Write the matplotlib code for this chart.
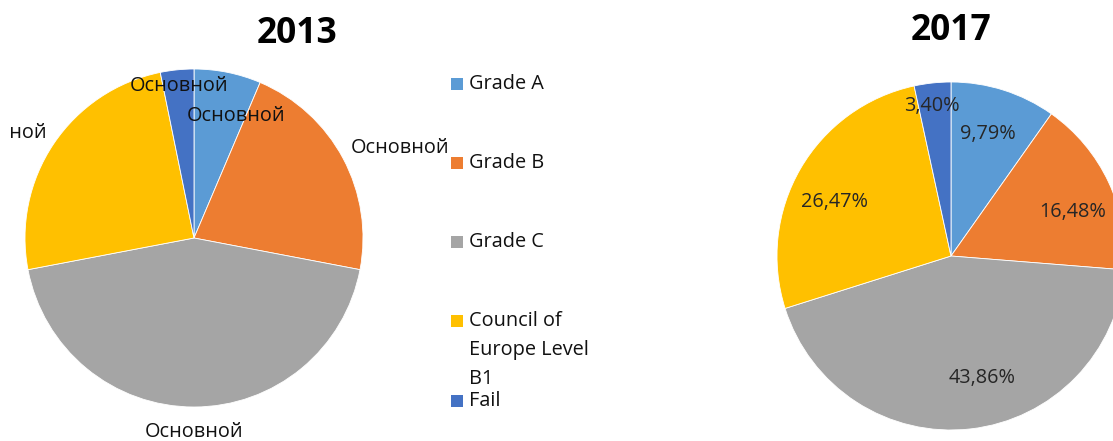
import numpy as np
import matplotlib.pyplot as plt
from matplotlib.patches import Rectangle
from matplotlib.transforms import Bbox, TransformedBbox

plt.rcParams['font.family'] = ['Open Sans', 'DejaVu Sans']

# data
categories = ['Grade A', 'Grade B', 'Grade C', 'Council of\nEurope Level\nB1', 'Fail']
colors = ['#5B9BD5', '#ED7D31', '#A5A5A5', '#FFC000', '#4472C4']
vals_2013 = [6.4, 21.6, 44.0, 24.8, 3.2]
vals_2017 = [9.79, 16.48, 43.86, 26.47, 3.40]
labels_2013 = ['Основной'] * 5

W, H = 1113, 441
FS = 14.3
fig = plt.figure(figsize=(W / 100, H / 100), dpi=100)


def pie_axes(cx, cy, r):
    # pixel centre (from top) and radius -> axes in figure coords
    ax = fig.add_axes([(cx - r) / W, (H - cy - r) / H, 2 * r / W, 2 * r / H])
    ax.set_xlim(-1, 1)
    ax.set_ylim(-1, 1)
    ax.axis('off')
    return ax


def draw_pie(ax, vals):
    ax.pie(vals, colors=colors, startangle=90, counterclock=False, radius=1,
           wedgeprops=dict(edgecolor='white', linewidth=0.6))
    ax.set_xlim(-1, 1)
    ax.set_ylim(-1, 1)


# 2013 (labels are cut by the chart area, which starts a little inside the picture)
ax1 = pie_axes(194, 238, 169)
draw_pie(ax1, vals_2013)
clip = TransformedBbox(Bbox([[10 / W, 0], [1, 1]]), fig.transFigure)
pos_2013 = [(0.25, 0.72), (1.22, 0.53), (0.0, -1.15), (-1.16, 0.62), (-0.09, 0.90)]
for lab, (x, y) in zip(labels_2013, pos_2013):
    t = ax1.text(x, y, lab, ha='center', va='center', fontsize=FS, color='#111111')
    t.set_clip_box(clip)
    t.set_clip_on(True)
fig.text(297 / W, 1 - 34 / H, '2013', ha='center', va='center', fontsize=25.5,
         fontweight='bold')

# 2017
ax2 = pie_axes(951, 256, 174)
draw_pie(ax2, vals_2017)
pos_2017 = [(0.21, 0.70), (0.70, 0.25), (0.18, -0.70), (-0.67, 0.31), (-0.11, 0.86)]
for v, (x, y) in zip(vals_2017, pos_2017):
    ax2.text(x, y, f'{v:.2f}%'.replace('.', ','), ha='center', va='center',
             fontsize=FS, color='#262626', clip_on=False)
fig.text(951 / W, 1 - 31 / H, '2017', ha='center', va='center', fontsize=25.5,
         fontweight='bold')

# legend (drawn by hand, Excel-style spacing)
leg_y = [84, 163, 242, 321, 401]
for c, lab, y in zip(colors, categories, leg_y):
    fig.patches.append(Rectangle((451 / W, 1 - (y + 6) / H), 12 / W, 12 / H,
                                 facecolor=c, edgecolor='none',
                                 transform=fig.transFigure, figure=fig))
    fig.text(469 / W, 1 - (y - 10) / H, lab, ha='left', va='top', fontsize=FS,
             color='#111111', linespacing=1.6)

fig.savefig('out.png', dpi=100)
